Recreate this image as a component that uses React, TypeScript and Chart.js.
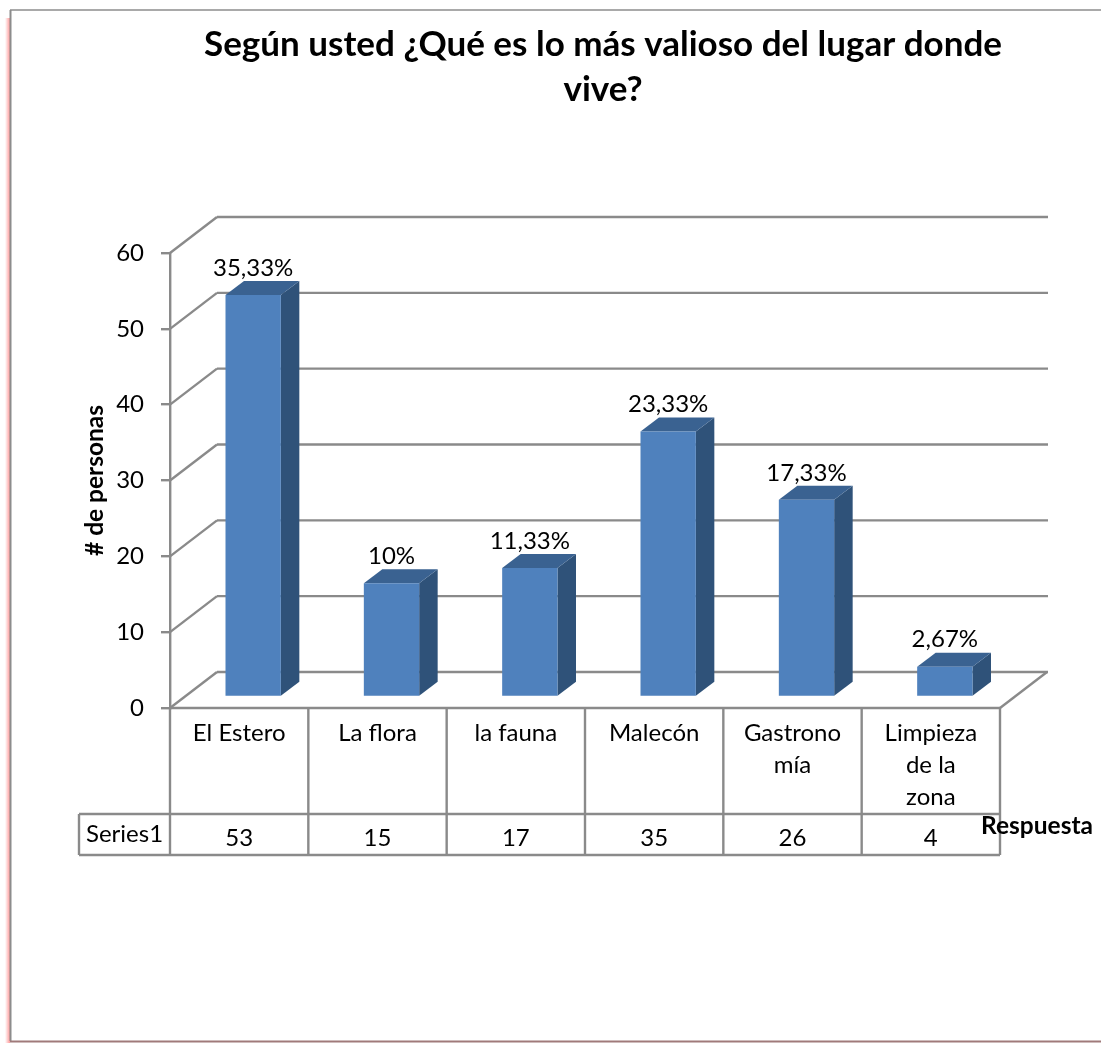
import React, { useEffect, useRef } from "react";
import { Chart, registerables } from "chart.js";

Chart.register(...registerables);

const categories: (string | string[])[] = ["El Estero", "La flora", "la fauna", "Malecón", ["Gastrono", "mía"], ["Limpieza", "de la", "zona"]];
const counts = [53, 15, 17, 35, 26, 4];
const percentLabels = ["35,33%", "10%", "11,33%", "23,33%", "17,33%", "2,67%"];
const seriesName = "Series1";
const titleLines = ["Según usted ¿Qué es lo más valioso del lugar donde", "vive?"];
const yTitle = "# de personas";
const xTitle = "Respuesta";

const FONT = "Lato, Carlito, Calibri, sans-serif";
const GRID = "#8a8a8a";
const WALL_DX = 47, WALL_DY = -36;
const BAR_DX = 14, BAR_DY = -11;
const SIDE_DX = 18.5, SIDE_DY = -14;
const FRONT = "#4f81bd", SIDE = "#2f5279", TOP = "#3a6291";
const LABEL_PX = 24;
const TABLE_ROW_TOP = 814, TABLE_BOTTOM = 855, TABLE_LEFT = 79;

function line(ctx: CanvasRenderingContext2D, x1: number, y1: number, x2: number, y2: number, w = 2.4, color = GRID) {
  ctx.beginPath();
  ctx.strokeStyle = color;
  ctx.lineWidth = w;
  ctx.moveTo(x1, y1);
  ctx.lineTo(x2, y2);
  ctx.stroke();
}

const frame3d = {
  id: "frame3d",
  beforeDraw(chart: any) {
    const ctx = chart.ctx;
    ctx.save();
    const g = ctx.createLinearGradient(5, 0, 10, 0);
    g.addColorStop(0, "rgba(255,120,120,0)");
    g.addColorStop(1, "rgba(255,120,120,0.75)");
    ctx.fillStyle = g;
    ctx.fillRect(5, 18, 5, 1025);
    line(ctx, 10, 10, 1101, 10, 1.5, "#8c8c8c");
    line(ctx, 10.5, 10, 10.5, 1041, 2, "#8c8c8c");
    line(ctx, 10, 1041.5, 1101, 1041.5, 2, "#a07a7a");
    ctx.textAlign = "center";
    ctx.textBaseline = "middle";
    ctx.fillStyle = "#000";
    ctx.font = `bold 35px ${FONT}`;
    ctx.fillText(titleLines[0], 603, 45);
    ctx.fillText(titleLines[1], 603, 90);
    ctx.restore();
  },
  beforeDatasetsDraw(chart: any) {
    const ctx = chart.ctx;
    const { x, y } = chart.scales;
    ctx.save();
    ctx.lineCap = "butt";
    y.ticks.forEach((t: any) => {
      const py = y.getPixelForValue(t.value);
      line(ctx, x.left + WALL_DX, py + WALL_DY, x.right + WALL_DX + 1, py + WALL_DY);
      line(ctx, x.left, py, x.left + WALL_DX, py + WALL_DY);
    });
    line(ctx, x.right, y.bottom, x.right + WALL_DX, y.bottom + WALL_DY);
    const meta = chart.getDatasetMeta(0);
    meta.data.forEach((bar: any) => {
      const l = bar.x - bar.width / 2 + BAR_DX;
      const r = bar.x + bar.width / 2 + BAR_DX;
      const t = bar.y + BAR_DY;
      const b = bar.base + BAR_DY;
      ctx.fillStyle = SIDE;
      ctx.beginPath();
      ctx.moveTo(r, t);
      ctx.lineTo(r + SIDE_DX, t + SIDE_DY);
      ctx.lineTo(r + SIDE_DX, b + SIDE_DY);
      ctx.lineTo(r, b);
      ctx.closePath();
      ctx.fill();
      ctx.fillStyle = TOP;
      ctx.beginPath();
      ctx.moveTo(l, t);
      ctx.lineTo(l + SIDE_DX, t + SIDE_DY);
      ctx.lineTo(r + SIDE_DX, t + SIDE_DY);
      ctx.lineTo(r, t);
      ctx.closePath();
      ctx.fill();
    });
    ctx.restore();
    ctx.save();
    ctx.translate(BAR_DX, BAR_DY);
  },
  afterDatasetsDraw(chart: any) {
    const ctx = chart.ctx;
    ctx.restore();
    const { x, y } = chart.scales;
    ctx.save();
    ctx.textAlign = "center";
    ctx.textBaseline = "middle";
    ctx.fillStyle = "#000";
    ctx.font = `${LABEL_PX}px ${FONT}`;
    const meta = chart.getDatasetMeta(0);
    meta.data.forEach((bar: any, i: number) => {
      ctx.fillText(percentLabels[i], bar.x + BAR_DX, bar.y + BAR_DY - 27);
    });
    // data table
    line(ctx, x.left, y.bottom, x.right, y.bottom);
    line(ctx, TABLE_LEFT, TABLE_ROW_TOP, x.right, TABLE_ROW_TOP);
    line(ctx, TABLE_LEFT, TABLE_BOTTOM, x.right, TABLE_BOTTOM);
    line(ctx, TABLE_LEFT, TABLE_ROW_TOP, TABLE_LEFT, TABLE_BOTTOM);
    const step = (x.right - x.left) / categories.length;
    for (let i = 0; i <= categories.length; i++) {
      const px = x.left + step * i;
      line(ctx, px, y.bottom, px, TABLE_BOTTOM);
    }
    ctx.fillStyle = "#000";
    ctx.fillText(seriesName, (TABLE_LEFT + x.left) / 2, 834);
    counts.forEach((v, i) => {
      ctx.fillText(String(v), x.getPixelForValue(i), 838);
    });
    ctx.font = `bold 24.5px ${FONT}`;
    ctx.fillText(xTitle, 1037, 826);
    ctx.restore();
  },
};

export default function App() {
  const ref = useRef<HTMLCanvasElement>(null);
  useEffect(() => {
    const chart = new Chart(ref.current!, {
      type: "bar",
      data: {
        labels: categories as any,
        datasets: [
          {
            label: seriesName,
            data: counts,
            backgroundColor: FRONT,
            barPercentage: 0.4,
            categoryPercentage: 1,
            clip: false as any,
          },
        ],
      },
      options: {
        responsive: false,
        animation: false,
        layout: { padding: { top: 253, left: 0, right: 101, bottom: 0 } },
        plugins: { legend: { display: false }, tooltip: { enabled: false } },
        scales: {
          x: {
            grid: { display: false },
            border: { display: false },
            ticks: {
              color: "#000",
              autoSkip: false,
              maxRotation: 0,
              minRotation: 0,
              padding: 1,
              font: { family: FONT, size: LABEL_PX, lineHeight: 1.33 },
            },
            afterFit(scale: any) {
              scale.height = 335;
            },
          },
          y: {
            min: 0,
            max: 60,
            ticks: {
              stepSize: 10,
              color: "#000",
              padding: 17,
              font: { family: FONT, size: LABEL_PX },
            },
            grid: { drawOnChartArea: false, color: GRID, lineWidth: 2.4, tickLength: 9 },
            border: { color: GRID, width: 2.4 },
            title: {
              display: true,
              text: yTitle,
              color: "#000",
              padding: { top: 80, bottom: 0 },
              font: { family: FONT, size: 24.5, weight: "bold" },
            },
            afterFit(scale: any) {
              scale.width = 170;
            },
          },
        },
      },
      plugins: [frame3d as any],
    });
    return () => chart.destroy();
  }, []);
  return (
    <canvas
      ref={ref}
      width={1101}
      height={1043}
      style={{ position: "absolute", left: 0, top: 0, display: "block" }}
    />
  );
}
